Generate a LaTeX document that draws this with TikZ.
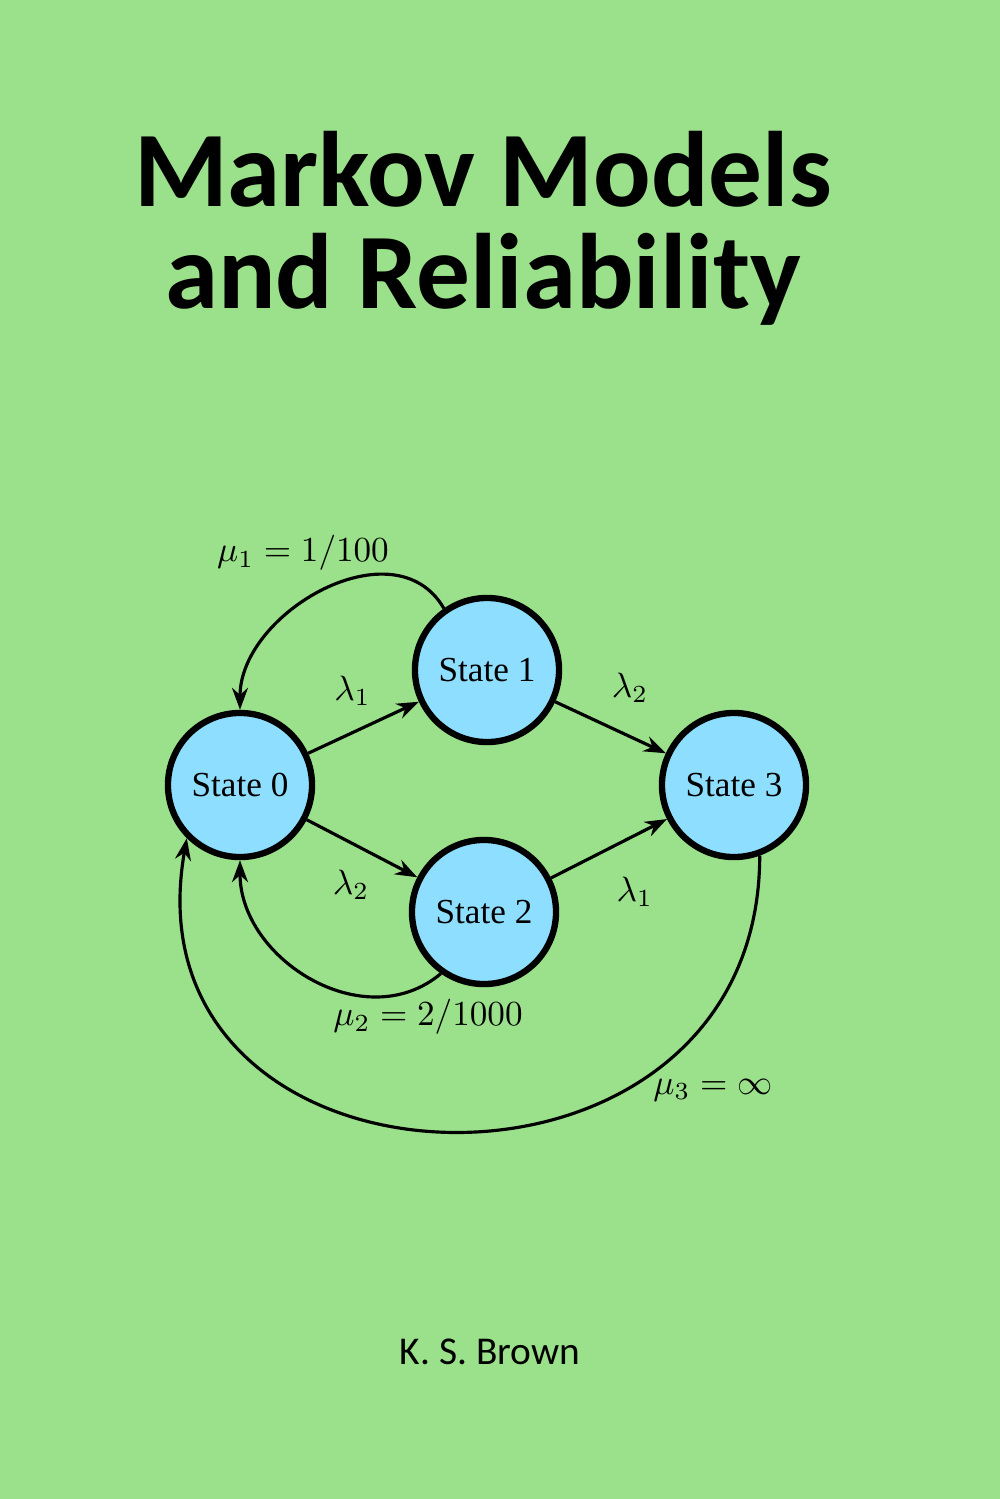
\documentclass[tikz,border=0pt]{standalone}
\usepackage{fontspec}
\setmainfont{Liberation Serif}
\newfontfamily\coverfont{Carlito}
\usetikzlibrary{arrows.meta}
\definecolor{cover}{RGB}{155,224,138}
\definecolor{stfill}{RGB}{142,222,255}

\begin{document}
\begin{tikzpicture}[
    x=0.01cm, y=-0.01cm,
    state/.style={
        circle, draw, line width=1.8pt, fill=stfill,
        minimum size=1.44cm, inner sep=0pt, font=\normalsize
    },
    trans/.style={
        line width=0.9pt, -{Stealth[length=2.2mm,width=1.6mm]}
    },
    l/.style={
        font=\normalsize
    }
]
    \fill[cover] (0,0) rectangle (1000,1499);
    \useasboundingbox (0,0) rectangle (1000,1499);

    \node (title) [font=\coverfont\bfseries\fontsize{30.5}{29}\selectfont, align=center]
        at (483,228) {Markov Models\\and Reliability};

    \node (s0) [state] at (240,785) {State 0};
    \node (s1) [state] at (487,670) {State 1};
    \node (s2) [state] at (484,912) {State 2};
    \node (s3) [state] at (734,785) {State 3};

    \draw[trans] (s0) -- node [l,above,pos=0.4,yshift=4pt] {$\lambda_1$} (s1);
    \draw[trans] (s1) -- node [l,above,pos=0.55,xshift=4pt,yshift=4pt] {$\lambda_2$} (s3);
    \draw[trans] (s0) -- node [l,below,pos=0.4,yshift=-4pt] {$\lambda_2$} (s2);
    \draw[trans] (s2) -- node [l,below,pos=0.6,xshift=4pt,yshift=-6pt] {$\lambda_1$} (s3);

    \draw[trans] (s1.125) to [out=120,in=90,looseness=1.1] (s0.north);
    \draw[trans] (s2.235) to [out=220,in=270,looseness=1.1] (s0.south);
    \draw[trans] (s3.290) to [out=270,in=260,looseness=1.7] (s0.225);

    \node (mu1) [l] at (303,553) {$\mathrm{\mu}_1 = 1/100$};
    \node (mu2) [l] at (428,1017) {$\mu_2 = 2/1000$};
    \node (mu3) [l] at (713,1090) {$\mu_3 = \infty$};

    \node (author) [font=\coverfont\fontsize{11.2}{13}\selectfont] at (490,1352) {K. S. Brown};
\end{tikzpicture}
\end{document}
